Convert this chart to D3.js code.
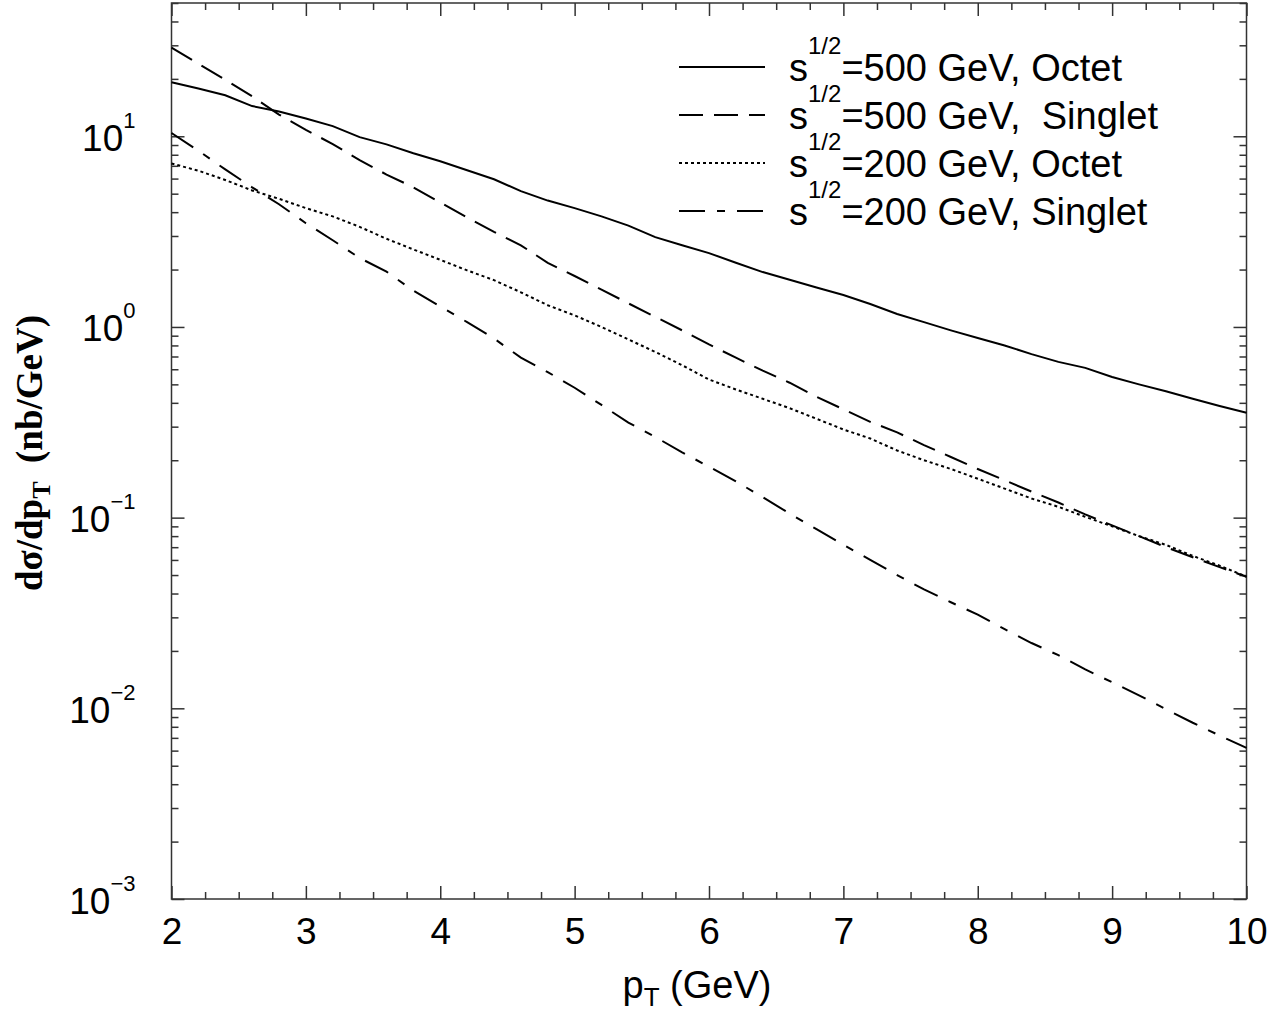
<!DOCTYPE html>
<html>
<head>
<meta charset="utf-8">
<script src="https://cdn.jsdelivr.net/npm/d3@7"></script>
<style>
  body { margin: 0; background: #fff; }
  svg { display: block; }
</style>
</head>
<body>
<div class="graph"></div>
<script>
// pT grid (GeV)
const pt = [2.0, 2.2, 2.4, 2.6, 2.8, 3.0, 3.2, 3.4, 3.6, 3.8,
            4.0, 4.2, 4.4, 4.6, 4.8, 5.0, 5.2, 5.4, 5.6, 5.8,
            6.0, 6.2, 6.4, 6.6, 6.8, 7.0, 7.2, 7.4, 7.6, 7.8,
            8.0, 8.2, 8.4, 8.6, 8.8, 9.0, 9.2, 9.4, 9.6, 9.8, 10.0];

// dsigma/dpT (nb/GeV)
const octet500 = [19.2, 17.8, 16.4, 14.4, 13.5, 12.4, 11.3, 9.9, 9.07, 8.15,
                  7.4, 6.63, 5.95, 5.16, 4.6, 4.2, 3.8, 3.4, 2.96, 2.68,
                  2.44, 2.17, 1.94, 1.77, 1.61, 1.47, 1.32, 1.17, 1.06, 0.96,
                  0.876, 0.80, 0.72, 0.656, 0.61, 0.547, 0.50, 0.46, 0.42, 0.385, 0.355];
const singlet500 = [29.2, 24.0, 19.8, 16.2, 13.0, 10.8, 9.1, 7.5, 6.3, 5.4,
                    4.5, 3.75, 3.15, 2.68, 2.17, 1.85, 1.57, 1.33, 1.13, 0.96,
                    0.81, 0.69, 0.59, 0.51, 0.43, 0.37, 0.318, 0.28, 0.24, 0.208,
                    0.18, 0.157, 0.137, 0.12, 0.104, 0.091, 0.08, 0.07, 0.062, 0.055, 0.049];
const octet200 = [7.2, 6.6, 5.9, 5.2, 4.7, 4.2, 3.8, 3.35, 2.9, 2.55,
                  2.25, 1.98, 1.76, 1.52, 1.3, 1.15, 1.0, 0.86, 0.74, 0.63,
                  0.53, 0.47, 0.42, 0.375, 0.33, 0.29, 0.26, 0.225, 0.2, 0.18,
                  0.16, 0.142, 0.126, 0.114, 0.101, 0.09, 0.08, 0.072, 0.063, 0.056, 0.049];
const singlet200 = [10.4, 8.4, 6.7, 5.4, 4.4, 3.5, 2.85, 2.3, 1.95, 1.55,
                    1.28, 1.06, 0.87, 0.69, 0.58, 0.48, 0.39, 0.315, 0.265, 0.22,
                    0.185, 0.155, 0.128, 0.105, 0.087, 0.072, 0.06, 0.05, 0.042, 0.036,
                    0.031, 0.026, 0.022, 0.019, 0.016, 0.0137, 0.0117, 0.0099, 0.0084, 0.0072, 0.0062];

const xMajor = [2, 3, 4, 5, 6, 7, 8, 9, 10];
const yMajor = [1e-3, 1e-2, 1e-1, 1, 10];
const yExponents = ['\u22123', '\u22122', '\u22121', '0', '1'];
const seriesNames = ['=500 GeV, Octet', '=500 GeV,  Singlet', '=200 GeV, Octet', '=200 GeV, Singlet'];

const width = 1286;
const height = 1011;
const plotLeft = 171.5, plotRight = 1246.5, plotTop = 3, plotBottom = 899;

const svg = d3.select('.graph')
  .append('svg')
  .attr('width', width)
  .attr('height', height)
  .style('font-family', '"Liberation Sans", Arial, Helvetica, sans-serif');

const x = d3.scaleLinear().domain([2, 10]).range([plotLeft, plotRight]);
const y = d3.scaleLog().domain([1e-3, 50]).range([plotBottom, plotTop]);

// minor tick values
const xMinor = d3.range(2, 10.001, 0.25).filter(v => Math.abs(v - Math.round(v)) > 1e-6);
const yMinor = [];
[1e-3, 1e-2, 1e-1, 1, 10].forEach(d => {
  for (let k = 2; k <= 9; k++) if (d * k <= 50) yMinor.push(d * k);
});

const axisColor = '#333';

function styleAxis(g) {
  g.select('.domain').remove();
  g.selectAll('.tick line').attr('stroke', axisColor).attr('stroke-width', 1.5);
}

// major + minor ticks on all four sides, pointing inward
[[d3.axisBottom, plotBottom, 'x-major'], [d3.axisTop, plotTop, '']].forEach(([ax, pos, cls]) => {
  svg.append('g').attr('transform', `translate(0,${pos})`)
    .call(ax(x).tickValues(xMinor).tickSize(-7).tickFormat(''))
    .call(styleAxis);
  svg.append('g').attr('class', cls)
    .attr('transform', `translate(0,${pos})`)
    .call(ax(x).tickValues(xMajor).tickSize(-13).tickFormat(''))
    .call(styleAxis);
});
[[d3.axisLeft, plotLeft, 'y-major'], [d3.axisRight, plotRight, '']].forEach(([ax, pos, cls]) => {
  svg.append('g').attr('transform', `translate(${pos},0)`)
    .call(ax(y).tickValues(yMinor).tickSize(-7).tickFormat(''))
    .call(styleAxis);
  svg.append('g').attr('class', cls)
    .attr('transform', `translate(${pos},0)`)
    .call(ax(y).tickValues(yMajor).tickSize(-13).tickFormat(''))
    .call(styleAxis);
});

// frame
svg.append('rect')
  .attr('x', plotLeft).attr('y', plotTop)
  .attr('width', plotRight - plotLeft).attr('height', plotBottom - plotTop)
  .attr('fill', 'none').attr('stroke', axisColor).attr('stroke-width', 1.5);

// x tick labels
svg.select('.x-major').selectAll('.tick').append('text')
  .attr('y', 45)
  .attr('fill', '#000')
  .attr('text-anchor', 'middle')
  .attr('font-size', 37)
  .text(d => d);

// y tick labels: 10 with superscript exponent
svg.select('.y-major').selectAll('.tick').each(function (d, i) {
  const t = d3.select(this).append('text')
    .attr('x', -36)
    .attr('y', 14)
    .attr('fill', '#000')
    .attr('text-anchor', 'end')
    .attr('font-size', 37);
  t.append('tspan').text('10');
  t.append('tspan').attr('dy', -23).attr('font-size', 22).text(yExponents[i]);
});

// curves
const series = [octet500, singlet500, octet200, singlet200];
const dashes = [null, '24,11', '3,3', '26,12,8,12'];

const line = d3.line()
  .x(d => x(d[0]))
  .y(d => y(d[1]));

series.forEach((vals, i) => {
  svg.append('path')
    .datum(pt.map((p, j) => [p, vals[j]]))
    .attr('d', line)
    .attr('fill', 'none')
    .attr('stroke', '#000')
    .attr('stroke-width', 2)
    .attr('stroke-dasharray', dashes[i]);
});

// legend
const legend = svg.append('g').attr('transform', 'translate(679, 67)');
seriesNames.forEach((name, i) => {
  const row = legend.append('g').attr('transform', `translate(0, ${i * 48})`);
  row.append('line')
    .attr('x1', 0).attr('x2', 86)
    .attr('y1', 0).attr('y2', 0)
    .attr('stroke', '#000')
    .attr('stroke-width', 2)
    .attr('stroke-dasharray', dashes[i]);
  const t = row.append('text')
    .attr('x', 110)
    .attr('y', 14)
    .attr('font-size', 38)
    .style('white-space', 'pre');
  t.append('tspan').text('s');
  t.append('tspan').attr('dy', -27).attr('font-size', 24).text('1/2');
  t.append('tspan').attr('dy', 27).text(name);
});

// x axis title
const xt = svg.append('text')
  .attr('x', 697).attr('y', 998)
  .attr('text-anchor', 'middle')
  .attr('font-size', 38);
xt.append('tspan').text('p');
xt.append('tspan').attr('dy', 8).attr('font-size', 26).text('T');
xt.append('tspan').attr('dy', -8).text(' (GeV)');

// y axis title
const yt = svg.append('text')
  .attr('transform', 'translate(42, 453) rotate(-90)')
  .attr('text-anchor', 'middle')
  .attr('font-family', '"Liberation Serif", "Times New Roman", serif')
  .attr('font-weight', 'bold')
  .attr('font-size', 37)
  .style('white-space', 'pre');
yt.append('tspan').text('d\u03c3/dp');
yt.append('tspan').attr('dy', 8).attr('font-size', 26).text('T');
yt.append('tspan').attr('dy', -8).text('  (nb/GeV)');
</script>
</body>
</html>
